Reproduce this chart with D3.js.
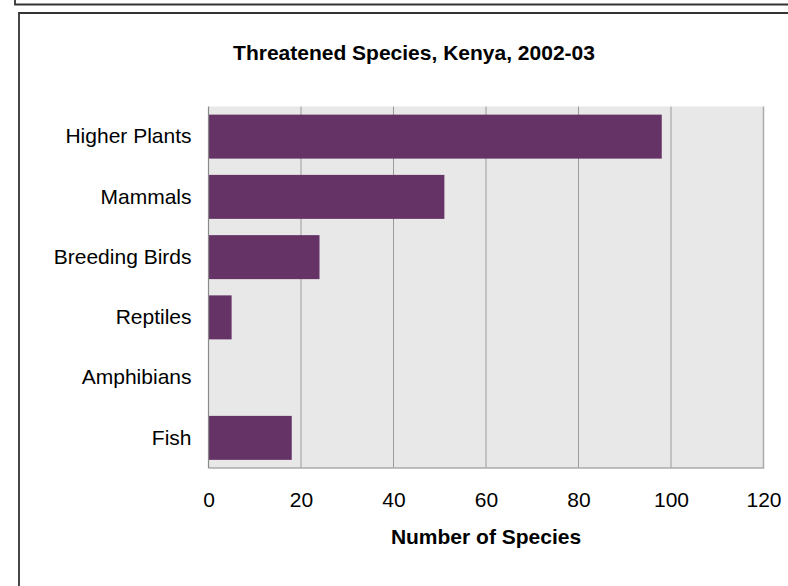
<!DOCTYPE html>
<html>
<head>
<meta charset="utf-8">
<script src="https://cdn.jsdelivr.net/npm/d3@7"></script>
<style>
    body { margin: 0; background: #fff; }
    svg text { font-family: Arial, "Liberation Sans", sans-serif; fill: #000; }
</style>
</head>
<body>
<div id="chart"></div>
<script>
    const categories = ['Higher Plants', 'Mammals', 'Breeding Birds', 'Reptiles', 'Amphibians', 'Fish'];
    const species = [98, 51, 24, 5, 0, 18];
    const xTicks = [0, 20, 40, 60, 80, 100, 120];

    const width = 788,
          height = 586;

    const plot = { left: 208.5, right: 763.5, top: 106.5, bottom: 468 };

    let svg = d3.select('#chart')
        .append('svg')
        .attr('width', width)
        .attr('height', height);

    // frames left over from the page the chart sat on
    svg.append('path')
        .attr('d', 'M15,-5 V4.5 H800')
        .attr('fill', 'none')
        .attr('stroke', '#333')
        .attr('stroke-width', 1.8);

    svg.append('path')
        .attr('d', 'M19,600 V13 H800')
        .attr('fill', 'none')
        .attr('stroke', '#333')
        .attr('stroke-width', 1.8);

    let x = d3.scaleLinear()
        .domain([0, 120])
        .range([plot.left, plot.right]);

    let y = d3.scaleBand()
        .domain(categories)
        .range([plot.top, plot.bottom])
        .paddingInner(0.27)
        .paddingOuter(0.135);

    svg.append('rect')
        .attr('x', plot.left)
        .attr('y', plot.top)
        .attr('width', plot.right - plot.left)
        .attr('height', plot.bottom - plot.top)
        .attr('fill', '#e8e8e8');

    // vertical gridlines
    svg.append('g')
        .selectAll('line')
        .data(xTicks.slice(1, -1))
        .enter()
        .append('line')
        .attr('x1', d => x(d))
        .attr('x2', d => x(d))
        .attr('y1', plot.top)
        .attr('y2', plot.bottom)
        .attr('stroke', '#9a9a9a')
        .attr('stroke-width', 1);

    // right + bottom edge of plot
    svg.append('path')
        .attr('d', `M${plot.right},${plot.top} V${plot.bottom} H${plot.left}`)
        .attr('fill', 'none')
        .attr('stroke', '#aaa')
        .attr('stroke-width', 1.5);

    svg.append('g')
        .selectAll('rect')
        .data(species)
        .enter()
        .append('rect')
        .attr('x', x(0))
        .attr('y', (d, i) => y(categories[i]))
        .attr('width', d => x(d) - x(0))
        .attr('height', y.bandwidth())
        .attr('fill', '#663366');

    // left axis line
    svg.append('line')
        .attr('x1', plot.left)
        .attr('x2', plot.left)
        .attr('y1', plot.top)
        .attr('y2', plot.bottom)
        .attr('stroke', '#8a8a8a')
        .attr('stroke-width', 1.2);

    let xAxis = svg.append('g')
        .attr('transform', `translate(0,${plot.bottom})`)
        .call(d3.axisBottom(x).tickValues(xTicks).tickSize(0).tickPadding(24));
    xAxis.select('.domain').remove();
    xAxis.selectAll('text')
        .attr('font-size', 21)
        .attr('font-family', null);

    let yAxis = svg.append('g')
        .attr('transform', `translate(${plot.left},0)`)
        .call(d3.axisLeft(y).tickSize(0).tickPadding(17));
    yAxis.select('.domain').remove();
    yAxis.selectAll('text')
        .attr('font-size', 21)
        .attr('font-family', null);

    svg.append('text')
        .attr('x', 414)
        .attr('y', 59.5)
        .attr('text-anchor', 'middle')
        .attr('font-size', 21)
        .attr('font-weight', 'bold')
        .text('Threatened Species, Kenya, 2002-03');

    svg.append('text')
        .attr('x', (plot.left + plot.right) / 2)
        .attr('y', 544)
        .attr('text-anchor', 'middle')
        .attr('font-size', 21)
        .attr('font-weight', 'bold')
        .text('Number of Species');
</script>
</body>
</html>
